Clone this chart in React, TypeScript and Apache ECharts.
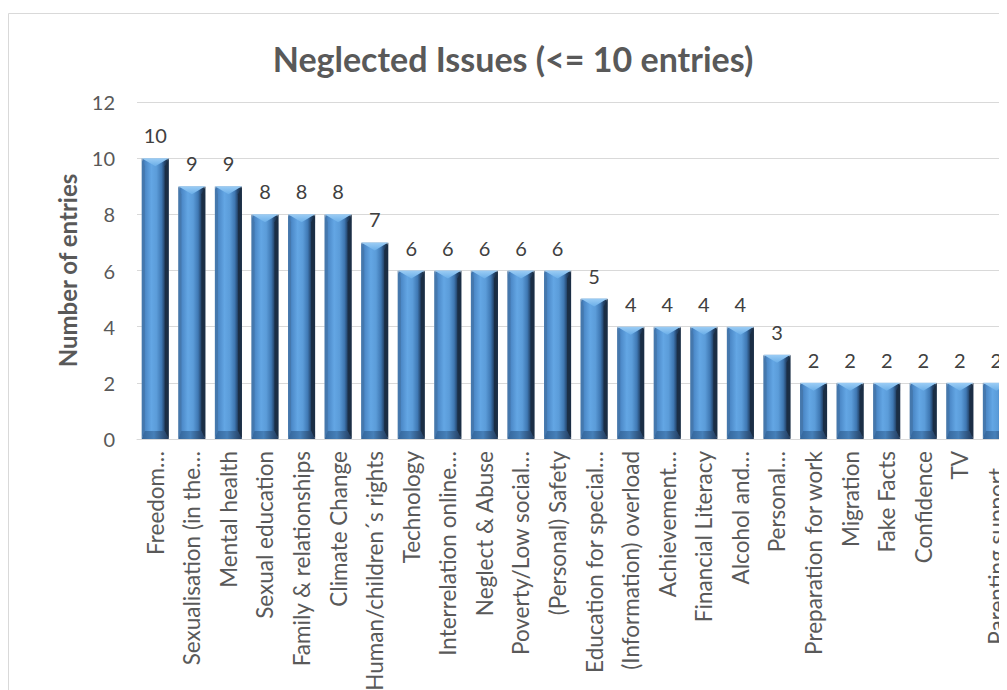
import React, { useEffect, useRef } from "react";
import * as echarts from "echarts";

// Topics and how many entries each received
const topics = [
  "Freedom…",
  "Sexualisation (in the…",
  "Mental health",
  "Sexual education",
  "Family & relationships",
  "Climate Change",
  "Human/children´s rights",
  "Technology",
  "Interrelation online…",
  "Neglect & Abuse",
  "Poverty/Low social…",
  "(Personal) Safety",
  "Education for special…",
  "(Information) overload",
  "Achievement…",
  "Financial Literacy",
  "Alcohol and…",
  "Personal…",
  "Preparation for work",
  "Migration",
  "Fake Facts",
  "Confidence",
  "TV",
  "Parenting support…",
];

const entries = [10, 9, 9, 8, 8, 8, 7, 6, 6, 6, 6, 6, 5, 4, 4, 4, 4, 3, 2, 2, 2, 2, 2, 2];

const yTicks = { min: 0, max: 12, interval: 2 };

const FONT = "Lato, 'Open Sans', sans-serif";
const BAR_RATIO = 0.74;

const bodyFill = new echarts.graphic.LinearGradient(0, 0, 1, 0, [
  { offset: 0, color: "#3a6ca2" },
  { offset: 0.12, color: "#4c89c8" },
  { offset: 0.35, color: "#63a6e4" },
  { offset: 0.55, color: "#5b9cd9" },
  { offset: 0.74, color: "#3f78b3" },
  { offset: 0.86, color: "#24446a" },
  { offset: 1, color: "#1a2c41" },
]);

// Bevel facets drawn over each bar: light top wedge, darker base, side strips
function renderBevel(params: any, api: any) {
  const idx = api.value(0);
  const v = api.value(1);
  const top = api.coord([idx, v]);
  const base = api.coord([idx, 0]);
  const bw = api.size([1, 0])[0] * BAR_RATIO;
  const x0 = top[0] - bw / 2;
  const x1 = top[0] + bw / 2;
  const y0 = top[1];
  const y1 = base[1];
  const d = 8;
  const cx = (x0 + x1) / 2;
  return {
    type: "group",
    children: [
      {
        type: "polygon",
        shape: { points: [[x0, y0], [x0 + 3, y0 + d], [x0 + 3, y1 - d], [x0, y1]] },
        style: { fill: "#4578ad" },
      },
      {
        type: "polygon",
        shape: { points: [[x1, y0], [x1 - 4, y0 + d], [x1 - 4, y1 - d], [x1, y1]] },
        style: { fill: "#1b2e45" },
      },
      {
        type: "polygon",
        shape: { points: [[x0, y1], [x1, y1], [x1 - 4, y1 - d], [x0 + 3, y1 - d]] },
        style: {
          fill: new echarts.graphic.LinearGradient(0, 0, 1, 0, [
            { offset: 0, color: "#34659a" },
            { offset: 0.45, color: "#4680b9" },
            { offset: 1, color: "#21395a" },
          ]),
        },
      },
      {
        type: "polygon",
        shape: { points: [[x0, y0], [x1, y0], [cx, y0 + d]] },
        style: {
          fill: new echarts.graphic.LinearGradient(0, 0, 0, 1, [
            { offset: 0, color: "#9ccdf5" },
            { offset: 1, color: "#6aaee8" },
          ]),
        },
      },
    ],
  };
}

export default function App() {
  const ref = useRef<HTMLDivElement>(null);

  useEffect(() => {
    if (!ref.current) return;
    const chart = echarts.init(ref.current, null, { renderer: "svg" });
    chart.setOption({
      animation: false,
      backgroundColor: "#ffffff",
      title: {
        text: "Neglected Issues (<= 10 entries)",
        left: 500,
        top: 28,
        textAlign: "center",
        textStyle: { fontFamily: FONT, fontSize: 34, fontWeight: "bold", color: "#595959" },
      },
      graphic: [
        {
          type: "rect",
          silent: true,
          shape: { x: 0.5, y: 5.5, width: 1100, height: 900 },
          style: { fill: "none", stroke: "#d9d9d9", lineWidth: 1 },
        },
      ],
      grid: { left: 129, top: 94, right: 23.3, height: 337, containLabel: false },
      xAxis: {
        type: "category",
        data: topics,
        axisLine: { show: true, lineStyle: { color: "#d9d9d9", width: 1 } },
        axisTick: { show: false },
        axisLabel: {
          interval: 0,
          rotate: 90,
          margin: 12,
          fontFamily: FONT,
          fontSize: 22.5,
          color: "#595959",
        },
      },
      yAxis: {
        type: "value",
        min: yTicks.min,
        max: yTicks.max,
        interval: yTicks.interval,
        name: "Number of entries",
        nameLocation: "middle",
        nameGap: 58,
        nameTextStyle: { fontFamily: FONT, fontSize: 24, fontWeight: "bold", color: "#595959" },
        axisLine: { show: false },
        axisTick: { show: false },
        splitLine: { lineStyle: { color: "#d9d9d9", width: 1 } },
        axisLabel: { margin: 22, fontFamily: FONT, fontSize: 20, color: "#595959" },
      },
      series: [
        {
          type: "bar",
          data: entries,
          barWidth: BAR_RATIO * 100 + "%",
          itemStyle: { color: bodyFill, borderColor: "#b6c1cd", borderWidth: 1 },
          label: {
            show: true,
            position: "top",
            distance: 13,
            fontFamily: FONT,
            fontSize: 20,
            color: "#404040",
          },
        },
        {
          type: "custom",
          data: entries.map((v, i) => [i, v]),
          renderItem: renderBevel,
          silent: true,
          z: 3,
        },
      ],
    });
    return () => chart.dispose();
  }, []);

  return (
    <div style={{ width: 999, height: 682, overflow: "hidden" }}>
      <div ref={ref} style={{ width: 1030, height: 720 }} />
    </div>
  );
}
